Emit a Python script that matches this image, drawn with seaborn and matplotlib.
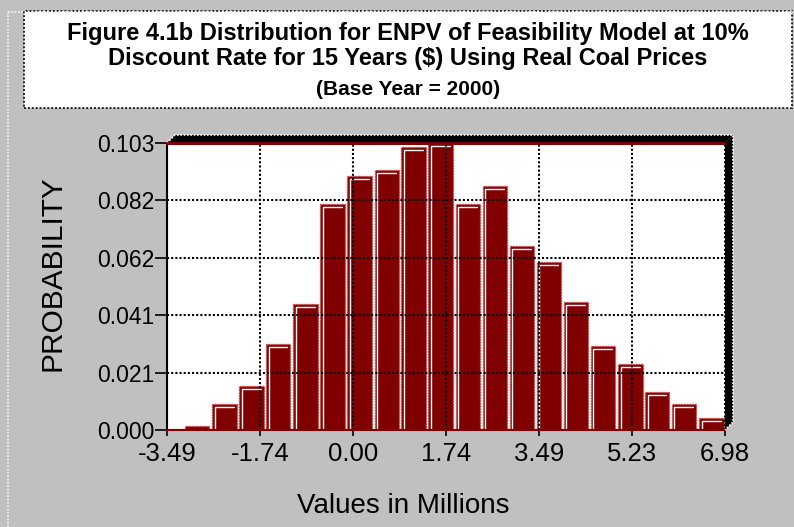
import numpy as np
import pandas as pd
import matplotlib
matplotlib.use("Agg")
import matplotlib.pyplot as plt
import seaborn as sns
from matplotlib.patches import Rectangle, Polygon
from matplotlib.lines import Line2D

# Simulated ENPV distribution: bin edges (millions of $) and probability per bin
bin_edges = [-3.18, -2.67, -2.16, -1.65, -1.15, -0.64, -0.13, 0.38, 0.88, 1.39,
             1.90, 2.41, 2.92, 3.42, 3.93, 4.44, 4.95, 5.46, 5.96, 6.47, 6.98]
probabilities = [0.0014, 0.0092, 0.0157, 0.0307, 0.0452, 0.0810, 0.0910, 0.0932,
                 0.1015, 0.1030, 0.0810, 0.0874, 0.0659, 0.0602, 0.0458, 0.0301,
                 0.0236, 0.0135, 0.0093, 0.0043]

x_ticks = [-3.49, -1.745, 0.0, 1.745, 3.49, 5.235, 6.98]
x_tick_labels = ["-3.49", "-1.74", "0.00", "1.74", "3.49", "5.23", "6.98"]
y_ticks = [0.0, 0.0206, 0.0412, 0.0618, 0.0824, 0.103]
y_tick_labels = ["0.000", "0.021", "0.041", "0.062", "0.082", "0.103"]

title_lines = [
    "Figure 4.1b Distribution for ENPV of Feasibility Model at 10%",
    "Discount Rate for 15 Years ($) Using Real Coal Prices",
    "(Base Year = 2000)",
]
x_label = "Values in Millions"
y_label = "PROBABILITY"

sns.set_theme(style="white")
plt.rcParams["font.family"] = ["Liberation Sans", "DejaVu Sans"]

W, H = 794, 527
BG = "#C0C0C0"
MAROON = "#800000"
fig = plt.figure(figsize=(W / 100, H / 100), dpi=100, facecolor=BG)


def fx(px):
    return px / W


def fy(py):
    return 1 - py / H


# outer chart frame
fig.add_artist(Line2D([fx(8), fx(8)], [fy(12), fy(H + 5)], color="#f4f4f4",
                      lw=1.2, ls=(0, (1, 1)), transform=fig.transFigure))
fig.add_artist(Line2D([fx(8), fx(W + 5)], [fy(12), fy(12)], color="#f4f4f4",
                      lw=1.2, ls=(0, (1, 1)), transform=fig.transFigure))

# title box
fig.add_artist(Rectangle((fx(24), fy(108)), fx(792) - fx(24), fy(11) - fy(108),
                         transform=fig.transFigure, facecolor="white",
                         edgecolor="#222222", lw=1.4, ls=(0, (1, 1))))
fig.text(fx(408), fy(40), title_lines[0], ha="center", va="baseline",
         fontsize=17, fontweight="bold", color="black")
fig.text(fx(408), fy(65), title_lines[1], ha="center", va="baseline",
         fontsize=17, fontweight="bold", color="black")
fig.text(fx(408), fy(95), title_lines[2], ha="center", va="baseline",
         fontsize=15, fontweight="bold", color="black")

# plot area
L, R, T, B = 167, 725, 143, 430
ax = fig.add_axes([fx(L), fy(B), fx(R) - fx(L), fy(T) - fy(B)])
ax.set_facecolor("white")

centers = (np.array(bin_edges[:-1]) + np.array(bin_edges[1:])) / 2
df = pd.DataFrame({"value": centers, "prob": probabilities})
sns.histplot(data=df, x="value", weights="prob", bins=bin_edges, stat="count",
             shrink=0.9, color=MAROON, alpha=1, edgecolor="#c84040",
             linewidth=1.0, linestyle=(0, (1, 1)), ax=ax)

ax.set_xlim(x_ticks[0], x_ticks[-1])
ax.set_ylim(y_ticks[0], y_ticks[-1])
ax.set_xticks(x_ticks)
ax.set_xticklabels(x_tick_labels)
ax.set_yticks(y_ticks)
ax.set_yticklabels(y_tick_labels)
ax.set_xlabel("")
ax.set_ylabel("")

ax.grid(True, color="black", linestyle=(0, (1, 1)), linewidth=1.5)
ax.set_axisbelow(False)

ax.tick_params(axis="y", left=True, length=8.6, width=1.2, color="black",
               pad=0.5, labelsize=16.5, labelcolor="black")
ax.tick_params(axis="x", bottom=True, length=4.3, width=1.2, color="black",
               pad=4.0, labelsize=18.5, labelcolor="black")

for side in ("left", "right", "top", "bottom"):
    ax.spines[side].set_visible(True)
ax.spines["left"].set_color("black")
ax.spines["left"].set_linewidth(1.5)
ax.spines["bottom"].set_color(MAROON)
ax.spines["bottom"].set_linewidth(1.5)
ax.spines["top"].set_color(MAROON)
ax.spines["top"].set_linewidth(2)
ax.spines["right"].set_visible(False)
for s in ax.spines.values():
    s.set_zorder(4)

# white bevel highlight inside each bar (top and left edges)
to_px = ax.transData
for p in ax.patches:
    x0, y0 = to_px.transform((p.get_x(), p.get_y()))
    x1, y1 = to_px.transform((p.get_x() + p.get_width(), p.get_y() + p.get_height()))
    if y1 - y0 < 9:
        continue
    hl = Line2D([x0 + 2.5, x0 + 2.5, x1 - 3], [y0 + 1, y1 - 2.5, y1 - 2.5],
                color="white", lw=1.0, transform=None, zorder=2)
    ax.add_artist(hl)

# 3-D depth of the plot box (top and right walls)
d = 8
top_wall = Polygon([(fx(L), fy(T)), (fx(L + d), fy(T - d)), (fx(R + d), fy(T - d)),
                    (fx(R), fy(T))], closed=True, transform=fig.transFigure,
                   facecolor="black", edgecolor="none", zorder=5)
right_wall = Polygon([(fx(R), fy(T)), (fx(R + d), fy(T - d)), (fx(R + d), fy(B - d)),
                      (fx(R), fy(B))], closed=True, transform=fig.transFigure,
                     facecolor="black", edgecolor="none", zorder=5)
fig.add_artist(top_wall)
fig.add_artist(right_wall)
fig.add_artist(Line2D([fx(L), fx(L + d), fx(R + d), fx(R + d), fx(R)],
                      [fy(T), fy(T - d), fy(T - d), fy(B - d), fy(B)],
                      color="white", lw=1.2, ls=(0, (1, 1)),
                      transform=fig.transFigure, zorder=6))
fig.add_artist(Line2D([fx(L), fx(R)], [fy(T), fy(T)], color=MAROON, lw=2,
                      transform=fig.transFigure, zorder=6))

# axis titles
fig.text(fx(53), fy(273), y_label, rotation=90, ha="center", va="center",
         fontsize=21.5, color="black")
fig.text(fx(403), fy(513), x_label, ha="center", va="baseline",
         fontsize=20, color="black")

fig.savefig("out.png", dpi=100, facecolor=BG)
